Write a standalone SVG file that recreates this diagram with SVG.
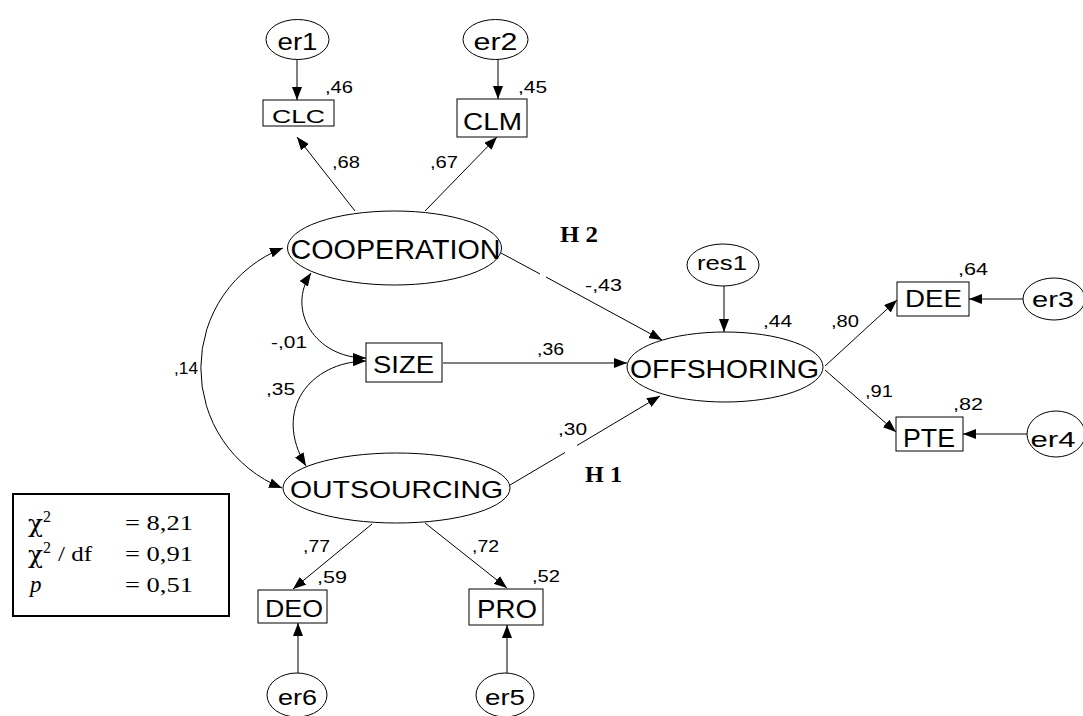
<svg xmlns="http://www.w3.org/2000/svg" width="1083" height="716" viewBox="0 0 1083 716">
<defs>
<style>
.n{fill:#fff;stroke:#000;stroke-width:1}
.l{font-family:"Liberation Sans",Arial,sans-serif;fill:#000;text-anchor:middle}
.c{font-family:"Liberation Sans",Arial,sans-serif;font-size:16.5px;fill:#000}
.h{font-family:"Liberation Serif","Times New Roman",serif;font-size:23px;font-weight:bold;fill:#000}
.s{font-family:"Liberation Serif","Times New Roman",serif;fill:#000}
.x{font-family:"DejaVu Serif","Liberation Serif",serif;fill:#000;font-size:25px}
.e{fill:none;stroke:#000;stroke-width:1}
</style>
<marker id="ah" markerWidth="13" markerHeight="10" refX="13" refY="5" orient="auto-start-reverse" markerUnits="userSpaceOnUse"><path d="M0,0 L13,5 L0,10 z" fill="#000"/></marker>
</defs>
<rect width="1083" height="716" fill="#fff"/>

<g id="connectors">
<line class="e" x1="297" y1="58" x2="297" y2="100" marker-end="url(#ah)"/>
<line class="e" x1="498" y1="58" x2="498" y2="99" marker-end="url(#ah)"/>
<line class="e" x1="355" y1="211" x2="297" y2="137" marker-end="url(#ah)"/>
<line class="e" x1="425" y1="211" x2="497" y2="137" marker-end="url(#ah)"/>
<line class="e" x1="501" y1="253" x2="540" y2="274"/>
<line class="e" x1="546" y1="277" x2="662" y2="340" marker-end="url(#ah)"/>
<line class="e" x1="443" y1="363" x2="627" y2="363" marker-end="url(#ah)"/>
<line class="e" x1="510" y1="485" x2="565" y2="452.5"/>
<line class="e" x1="577" y1="445.5" x2="660" y2="396" marker-end="url(#ah)"/>
<line class="e" x1="724" y1="286" x2="724" y2="332" marker-end="url(#ah)"/>
<line class="e" x1="825" y1="366" x2="897" y2="300" marker-end="url(#ah)"/>
<line class="e" x1="825" y1="370" x2="896" y2="432" marker-end="url(#ah)"/>
<line class="e" x1="1023" y1="299" x2="969" y2="299" marker-end="url(#ah)"/>
<line class="e" x1="1027" y1="434" x2="963" y2="434" marker-end="url(#ah)"/>
<line class="e" x1="372" y1="524" x2="293" y2="589" marker-end="url(#ah)"/>
<line class="e" x1="425" y1="523" x2="507" y2="588" marker-end="url(#ah)"/>
<line class="e" x1="298" y1="673" x2="298" y2="623" marker-end="url(#ah)"/>
<line class="e" x1="507" y1="673" x2="507" y2="625" marker-end="url(#ah)"/>
<path class="e" d="M283,248 A129,129 0 0 0 282,488" marker-start="url(#ah)" marker-end="url(#ah)"/>
<path class="e" d="M311,273 C286,310 315,358 366,358" marker-start="url(#ah)" marker-end="url(#ah)"/>
<path class="e" d="M366,361 C310,362 272,410 306,466" marker-start="url(#ah)" marker-end="url(#ah)"/>
</g>

<g id="er1"><ellipse class="n" cx="297.5" cy="39.5" rx="31.5" ry="20"/><text class="l" x="297.5" y="50" font-size="24" textLength="40" lengthAdjust="spacingAndGlyphs">er1</text></g>
<g id="er2"><ellipse class="n" cx="495.5" cy="39.5" rx="32.5" ry="20"/><text class="l" x="495.5" y="50" font-size="24" textLength="44" lengthAdjust="spacingAndGlyphs">er2</text></g>
<g id="CLC"><rect class="n" x="263" y="100" width="71" height="26"/><text class="l" x="298.5" y="123" font-size="19" textLength="53" lengthAdjust="spacingAndGlyphs">CLC</text></g>
<g id="CLM"><rect class="n" x="457" y="99" width="70" height="38"/><text class="l" x="492.5" y="130" font-size="23" textLength="59" lengthAdjust="spacingAndGlyphs">CLM</text></g>
<g id="COOPERATION"><ellipse class="n" cx="394.5" cy="248" rx="107" ry="37"/><text class="l" x="395.5" y="258.5" font-size="27" textLength="210" lengthAdjust="spacingAndGlyphs">COOPERATION</text></g>
<g id="SIZE"><rect class="n" x="366" y="343" width="76" height="39"/><text class="l" x="403.5" y="373" font-size="24" textLength="61" lengthAdjust="spacingAndGlyphs">SIZE</text></g>
<g id="OUTSOURCING"><ellipse class="n" cx="396.5" cy="488" rx="113.5" ry="35"/><text class="l" x="396.5" y="498" font-size="24" textLength="213" lengthAdjust="spacingAndGlyphs">OUTSOURCING</text></g>
<g id="OFFSHORING"><ellipse class="n" cx="725" cy="367" rx="98" ry="35"/><text class="l" x="724.5" y="378" font-size="26" textLength="189" lengthAdjust="spacingAndGlyphs">OFFSHORING</text></g>
<g id="res1"><ellipse class="n" cx="723" cy="265" rx="36" ry="21"/><text class="l" x="722" y="270" font-size="21" textLength="50" lengthAdjust="spacingAndGlyphs">res1</text></g>
<g id="DEE"><rect class="n" x="897" y="282" width="72" height="34"/><text class="l" x="933.5" y="307" font-size="23" textLength="57" lengthAdjust="spacingAndGlyphs">DEE</text></g>
<g id="PTE"><rect class="n" x="896" y="417" width="67" height="34"/><text class="l" x="929" y="447" font-size="25" textLength="52" lengthAdjust="spacingAndGlyphs">PTE</text></g>
<g id="er3"><ellipse class="n" cx="1054" cy="299" rx="31" ry="21"/><text class="l" x="1053" y="307" font-size="22" textLength="42" lengthAdjust="spacingAndGlyphs">er3</text></g>
<g id="er4"><ellipse class="n" cx="1056" cy="434" rx="29" ry="23"/><text class="l" x="1053" y="447" font-size="22" textLength="45" lengthAdjust="spacingAndGlyphs">er4</text></g>
<g id="DEO"><rect class="n" x="258" y="590" width="69" height="33"/><text class="l" x="294" y="617" font-size="24" textLength="58" lengthAdjust="spacingAndGlyphs">DEO</text></g>
<g id="PRO"><rect class="n" x="469" y="589" width="74" height="36"/><text class="l" x="507" y="618" font-size="25" textLength="60" lengthAdjust="spacingAndGlyphs">PRO</text></g>
<g id="er6"><ellipse class="n" cx="297" cy="695" rx="30" ry="22"/><text class="l" x="297.5" y="705" font-size="22" textLength="39" lengthAdjust="spacingAndGlyphs">er6</text></g>
<g id="er5"><ellipse class="n" cx="505" cy="695" rx="29" ry="22"/><text class="l" x="505" y="705" font-size="22" textLength="40" lengthAdjust="spacingAndGlyphs">er5</text></g>

<g id="coefficients">
<text class="c" x="325" y="93" textLength="28" lengthAdjust="spacingAndGlyphs">,46</text>
<text class="c" x="518" y="93" textLength="29" lengthAdjust="spacingAndGlyphs">,45</text>
<text class="c" x="332" y="168" textLength="28" lengthAdjust="spacingAndGlyphs">,68</text>
<text class="c" x="430" y="168" textLength="28" lengthAdjust="spacingAndGlyphs">,67</text>
<text class="c" x="585" y="291" textLength="37" lengthAdjust="spacingAndGlyphs">-,43</text>
<text class="c" x="537" y="355" textLength="27" lengthAdjust="spacingAndGlyphs">,36</text>
<text class="c" x="763" y="327" textLength="29" lengthAdjust="spacingAndGlyphs">,44</text>
<text class="c" x="831" y="327" textLength="28" lengthAdjust="spacingAndGlyphs">,80</text>
<text class="c" x="958" y="275" textLength="30" lengthAdjust="spacingAndGlyphs">,64</text>
<text class="c" x="865" y="397" textLength="28" lengthAdjust="spacingAndGlyphs">,91</text>
<text class="c" x="953" y="410" textLength="30" lengthAdjust="spacingAndGlyphs">,82</text>
<text class="c" x="271" y="348" textLength="36" lengthAdjust="spacingAndGlyphs">-,01</text>
<text class="c" x="266" y="395" textLength="29" lengthAdjust="spacingAndGlyphs">,35</text>
<text class="c" x="174" y="374" textLength="24" lengthAdjust="spacingAndGlyphs">,14</text>
<text class="c" x="558" y="435" textLength="29" lengthAdjust="spacingAndGlyphs">,30</text>
<text class="c" x="303" y="552" textLength="27" lengthAdjust="spacingAndGlyphs">,77</text>
<text class="c" x="317" y="583" textLength="30" lengthAdjust="spacingAndGlyphs">,59</text>
<text class="c" x="472" y="552" textLength="27" lengthAdjust="spacingAndGlyphs">,72</text>
<text class="c" x="532" y="582" textLength="28" lengthAdjust="spacingAndGlyphs">,52</text>
<text class="h" x="560" y="242" textLength="38" lengthAdjust="spacingAndGlyphs">H 2</text>
<text class="h" x="585" y="482" textLength="37" lengthAdjust="spacingAndGlyphs">H 1</text>
</g>

<g id="fit-statistics">
<rect x="13" y="494" width="216" height="122" fill="#fff" stroke="#000" stroke-width="2"/>
<text class="x" x="28" y="532" textLength="15" lengthAdjust="spacingAndGlyphs">χ</text>
<text class="s" x="43" y="522" style="font-size:16px">2</text>
<text class="s" x="125" y="530" style="font-size:22px" textLength="68" lengthAdjust="spacingAndGlyphs">= 8,21</text>
<text class="x" x="28" y="563" textLength="15" lengthAdjust="spacingAndGlyphs">χ</text>
<text class="s" x="43" y="553" style="font-size:16px">2</text>
<text class="s" x="58" y="561" style="font-size:22px" textLength="34" lengthAdjust="spacingAndGlyphs">/ df</text>
<text class="s" x="125" y="561" style="font-size:22px" textLength="68" lengthAdjust="spacingAndGlyphs">= 0,91</text>
<text class="s" x="30" y="592" style="font-size:23px;font-style:italic">p</text>
<text class="s" x="125" y="592" style="font-size:22px" textLength="68" lengthAdjust="spacingAndGlyphs">= 0,51</text>
</g>
</svg>
